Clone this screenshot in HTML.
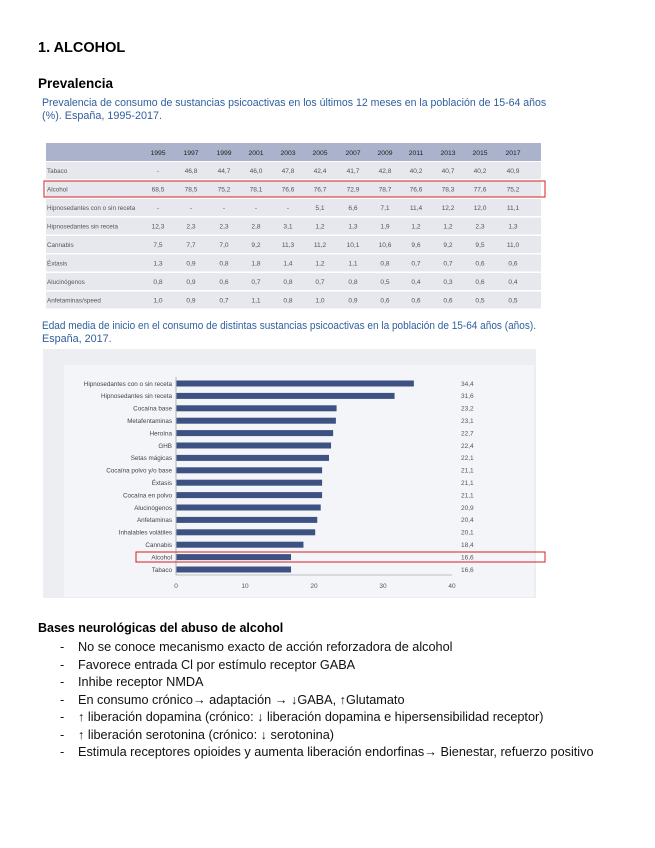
<!DOCTYPE html>
<html><head><meta charset="utf-8"><style>
body{margin:0;width:655px;height:848px;background:#fff;font-family:"Liberation Sans",sans-serif;position:relative;overflow:hidden}
.a{position:absolute;white-space:nowrap}
.li{position:absolute;left:60px;font-size:12.7px;color:#111;white-space:nowrap}
.li span{display:inline-block;width:18px}
.cap{position:absolute;left:42px;font-size:10.8px;color:#2f5f9c;white-space:nowrap;transform-origin:0 0}
</style></head><body>
<div class="a" style="left:38px;top:40px;font-size:14.5px;font-weight:bold">1. ALCOHOL</div>
<div class="a" style="left:38px;top:76px;font-size:13.5px;font-weight:bold">Prevalencia</div>
<div class="cap" style="top:97px;transform:scaleX(0.978)">Prevalencia de consumo de sustancias psicoactivas en los últimos 12 meses en la población de 15-64 años</div>
<div class="cap" style="top:110px">(%). España, 1995-2017.</div>

<svg class="a" style="left:0;top:0" width="655" height="848" font-family="Liberation Sans, sans-serif">
<rect x="46" y="143" width="495" height="18" fill="#abb2cb"/>
<g font-size="6.8" fill="#222" text-anchor="middle">
<text x="158" y="155">1995</text><text x="191" y="155">1997</text><text x="224" y="155">1999</text><text x="256" y="155">2001</text><text x="288" y="155">2003</text><text x="320" y="155">2005</text><text x="353" y="155">2007</text><text x="385" y="155">2009</text><text x="416" y="155">2011</text><text x="448" y="155">2013</text><text x="480" y="155">2015</text><text x="513" y="155">2017</text>
</g>
<g fill="#e6e8ee">
<rect x="46" y="162" width="495" height="17"/><rect x="46" y="180.5" width="495" height="17"/><rect x="46" y="199" width="495" height="17"/><rect x="46" y="217.5" width="495" height="17"/><rect x="46" y="236" width="495" height="17"/><rect x="46" y="254.5" width="495" height="17"/><rect x="46" y="273" width="495" height="17"/><rect x="46" y="291.5" width="495" height="17"/>
</g>
<g font-size="6.3" fill="#555">
<text x="47" y="173">Tabaco</text><text x="47" y="191.5">Alcohol</text><text x="47" y="210">Hipnosedantes con o sin receta</text><text x="47" y="228.5">Hipnosedantes sin receta</text><text x="47" y="247">Cannabis</text><text x="47" y="265.5">Éxtasis</text><text x="47" y="284">Alucinógenos</text><text x="47" y="302.5">Anfetaminas/speed</text>
</g>
<g font-size="6.6" fill="#555" text-anchor="middle" id="t"></g>
<rect x="44" y="181" width="501" height="16" fill="none" stroke="#d62020" stroke-width="1"/>

<rect x="43" y="349" width="493" height="249" fill="#eceef2"/>
<rect x="64" y="365" width="470" height="232" fill="#f4f5f8"/>
<line x1="176" y1="377" x2="176" y2="575" stroke="#888" stroke-width="0.6"/>
<line x1="176" y1="575" x2="452" y2="575" stroke="#888" stroke-width="0.6"/>
<g id="b"></g>
<g font-size="6.5" fill="#555" text-anchor="middle">
<text x="176" y="588">0</text><text x="245" y="588">10</text><text x="314" y="588">20</text><text x="383" y="588">30</text><text x="452" y="588">40</text>
</g>
<rect x="136" y="552" width="409" height="10" fill="none" stroke="#d62020" stroke-width="1"/>
</svg>

<div class="cap" style="top:320px;transform:scaleX(0.93)">Edad media de inicio en el consumo de distintas sustancias psicoactivas en la población de 15-64 años (años).</div>
<div class="cap" style="top:333px">España, 2017.</div>

<div class="a" style="left:38px;top:621px;font-size:12.5px;font-weight:bold">Bases neurológicas del abuso de alcohol</div>
<div class="li" style="top:640px"><span>-</span>No se conoce mecanismo exacto de acción reforzadora de alcohol</div>
<div class="li" style="top:657.5px"><span>-</span>Favorece entrada Cl por estímulo receptor GABA</div>
<div class="li" style="top:675px"><span>-</span>Inhibe receptor NMDA</div>
<div class="li" style="top:692.5px"><span>-</span>En consumo crónico→ adaptación → ↓GABA, ↑Glutamato</div>
<div class="li" style="top:710px"><span>-</span>↑ liberación dopamina (crónico: ↓ liberación dopamina e hipersensibilidad receptor)</div>
<div class="li" style="top:727.5px"><span>-</span>↑ liberación serotonina (crónico: ↓ serotonina)</div>
<div class="li" style="top:745px"><span>-</span>Estimula receptores opioides y aumenta liberación endorfinas→ Bienestar, refuerzo positivo</div>

<script>
var xs=[158,191,224,256,288,320,353,385,416,448,480,513];
var rows=[["-","46,8","44,7","46,0","47,8","42,4","41,7","42,8","40,2","40,7","40,2","40,9"],
["68,5","78,5","75,2","78,1","76,6","76,7","72,9","78,7","76,6","78,3","77,6","75,2"],
["-","-","-","-","-","5,1","6,6","7,1","11,4","12,2","12,0","11,1"],
["12,3","2,3","2,3","2,8","3,1","1,2","1,3","1,9","1,2","1,2","2,3","1,3"],
["7,5","7,7","7,0","9,2","11,3","11,2","10,1","10,6","9,6","9,2","9,5","11,0"],
["1,3","0,9","0,8","1,8","1,4","1,2","1,1","0,8","0,7","0,7","0,6","0,6"],
["0,8","0,9","0,6","0,7","0,8","0,7","0,8","0,5","0,4","0,3","0,6","0,4"],
["1,0","0,9","0,7","1,1","0,8","1,0","0,9","0,6","0,6","0,6","0,5","0,5"]];
var t=document.getElementById("t"),h="";
rows.forEach(function(r,i){r.forEach(function(v,j){h+='<text x="'+xs[j]+'" y="'+(173+i*18.5)+'">'+v+'</text>';});});
t.innerHTML=h;
var bars=[["Hipnosedantes con o sin receta",34.4,"34,4"],["Hipnosedantes sin receta",31.6,"31,6"],["Cocaína base",23.2,"23,2"],["Metafentaminas",23.1,"23,1"],["Heroína",22.7,"22,7"],["GHB",22.4,"22,4"],["Setas mágicas",22.1,"22,1"],["Cocaína polvo y/o base",21.1,"21,1"],["Éxtasis",21.1,"21,1"],["Cocaína en polvo",21.1,"21,1"],["Alucinógenos",20.9,"20,9"],["Anfetaminas",20.4,"20,4"],["Inhalables volátiles",20.1,"20,1"],["Cannabis",18.4,"18,4"],["Alcohol",16.6,"16,6"],["Tabaco",16.6,"16,6"]];
h="";
bars.forEach(function(b,i){var y=383.5+i*12.4;
h+='<rect x="176.5" y="'+(y-3)+'" width="'+(b[1]*6.9)+'" height="6" fill="#3d5283"/>';
h+='<text x="172" y="'+(y+2.3)+'" font-size="6.3" fill="#444" text-anchor="end">'+b[0]+'</text>';
h+='<text x="461" y="'+(y+2.3)+'" font-size="6.5" fill="#555">'+b[2]+'</text>';});
document.getElementById("b").innerHTML=h;
</script>
</body></html>
